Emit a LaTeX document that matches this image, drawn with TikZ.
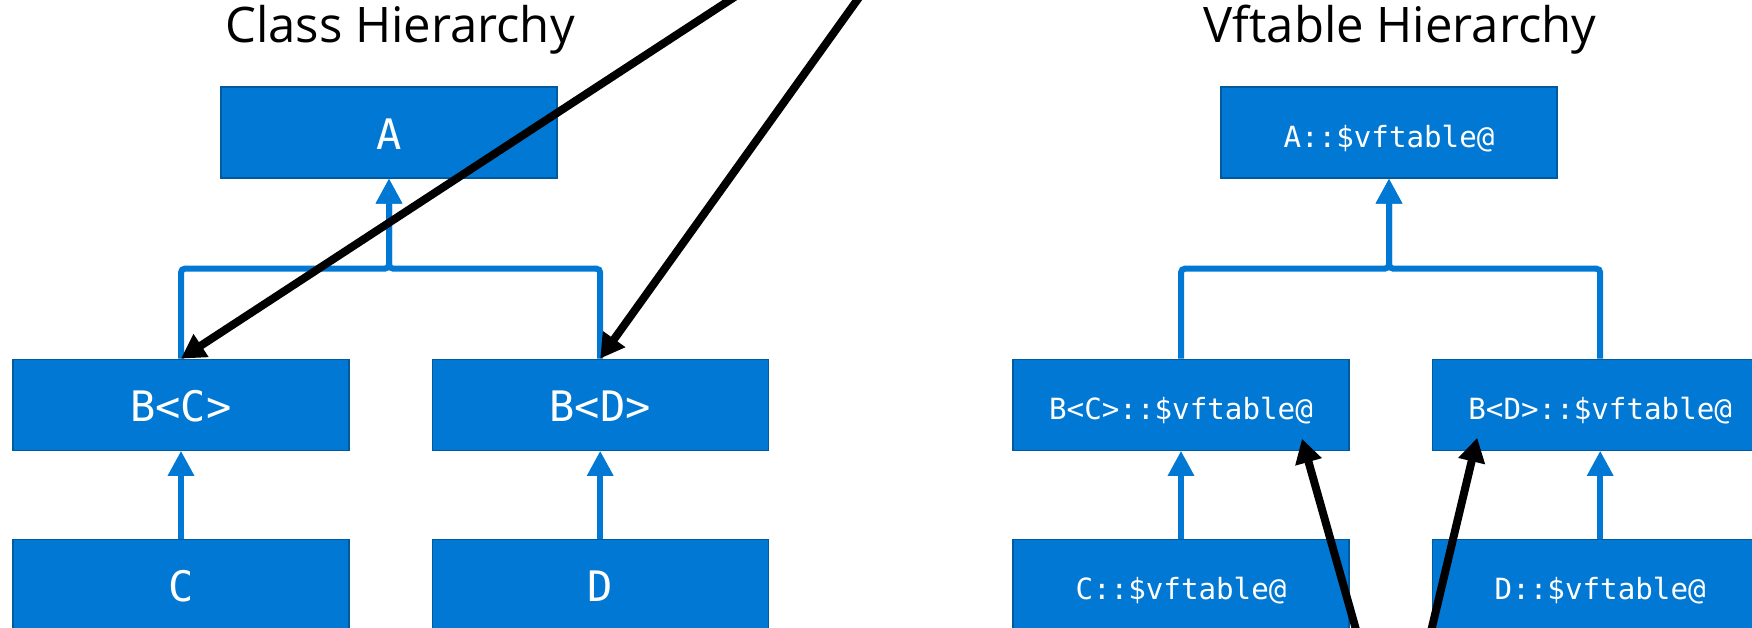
\documentclass[tikz,border=0pt]{standalone}
\usepackage{fontspec}
\setmainfont{Open Sans}
\setmonofont{DejaVu Sans Mono}
\usepackage{xcolor}
\usepackage{tikz}
\usetikzlibrary{positioning,arrows.meta}
\definecolor{msblue}{HTML}{0078D4}
\definecolor{msedge}{HTML}{005A9E}

\begin{document}
\begin{tikzpicture}[x=0.5pt,y=-0.5pt,node distance=44pt]
\tikzstyle{cls} = [rectangle, minimum width=168pt, minimum height=45.5pt, inner sep=0pt, text centered, text height=17pt, text depth=0pt, draw=msedge, line width=0.6pt, fill=msblue, text=white, font=\ttfamily\fontsize{21}{24}\selectfont]
\tikzstyle{vft} = [cls, text height=14.5pt, font=\ttfamily\fontsize{14.6}{17}\selectfont]
\tikzstyle{title} = [anchor=base, font=\fontsize{24.5}{29}\selectfont]
\tikzstyle{inherit} = [draw=msblue, line width=3pt, rounded corners=2pt, -{Triangle[length=12.5pt,width=12.5pt]}]
\tikzstyle{pointer} = [line width=4pt, -{Triangle[length=12pt,width=13pt]}]

\useasboundingbox (0,0) rectangle (1752,627);
\clip (0,0) rectangle (1752,627);

% Titles
\node (ctitle) [title] at (400,42) {Class Hierarchy};
\node (vtitle) [title] at (1400,42) {Vftable Hierarchy};

% Class hierarchy
\node (a) [cls] at (389,132.5) {A};
\node (bc) [cls, below=90pt of a, xshift=-104pt] {B<C>};
\node (bd) [cls, right=41pt of bc] {B<D>};
\node (c) [cls, below=44pt of bc] {C};
\node (d) [cls, below=44pt of bd] {D};

% Vftable hierarchy
\node (av) [vft] at (1389,132.5) {A::\$vftable@};
\node (bcv) [vft, below=90pt of av, xshift=-104pt] {B<C>::\$vftable@};
\node (bdv) [vft, right=41pt of bcv] {B<D>::\$vftable@};
\node (cv) [vft, below=44pt of bcv] {C::\$vftable@};
\node (dv) [vft, below=44pt of bdv] {D::\$vftable@};

% Inheritance arrows
\draw [inherit] (bc.north) -- ++(0,-90) -| (a.south);
\draw [inherit] (bd.north) -- ++(0,-90) -| (a.south);
\draw [inherit] (c) -- (bc);
\draw [inherit] (d) -- (bd);
\draw [inherit] (bcv.north) -- ++(0,-90) -| (av.south);
\draw [inherit] (bdv.north) -- ++(0,-90) -| (av.south);
\draw [inherit] (cv) -- (bcv);
\draw [inherit] (dv) -- (bdv);

% Pointers
\coordinate (srcbc) at (785,-36);
\coordinate (srcbd) at (883,-36);
\coordinate (srcbcv) at (1366,665);
\coordinate (srcbdv) at (1423,665);
\draw [pointer] (srcbc) -- (bc.north);
\draw [pointer] (srcbd) -- (bd.north);
\draw [pointer] (srcbcv) -- ([xshift=60.5pt,yshift=6pt]bcv.south);
\draw [pointer] (srcbdv) -- ([xshift=-61.5pt,yshift=6.5pt]bdv.south);

\end{tikzpicture}
\end{document}
